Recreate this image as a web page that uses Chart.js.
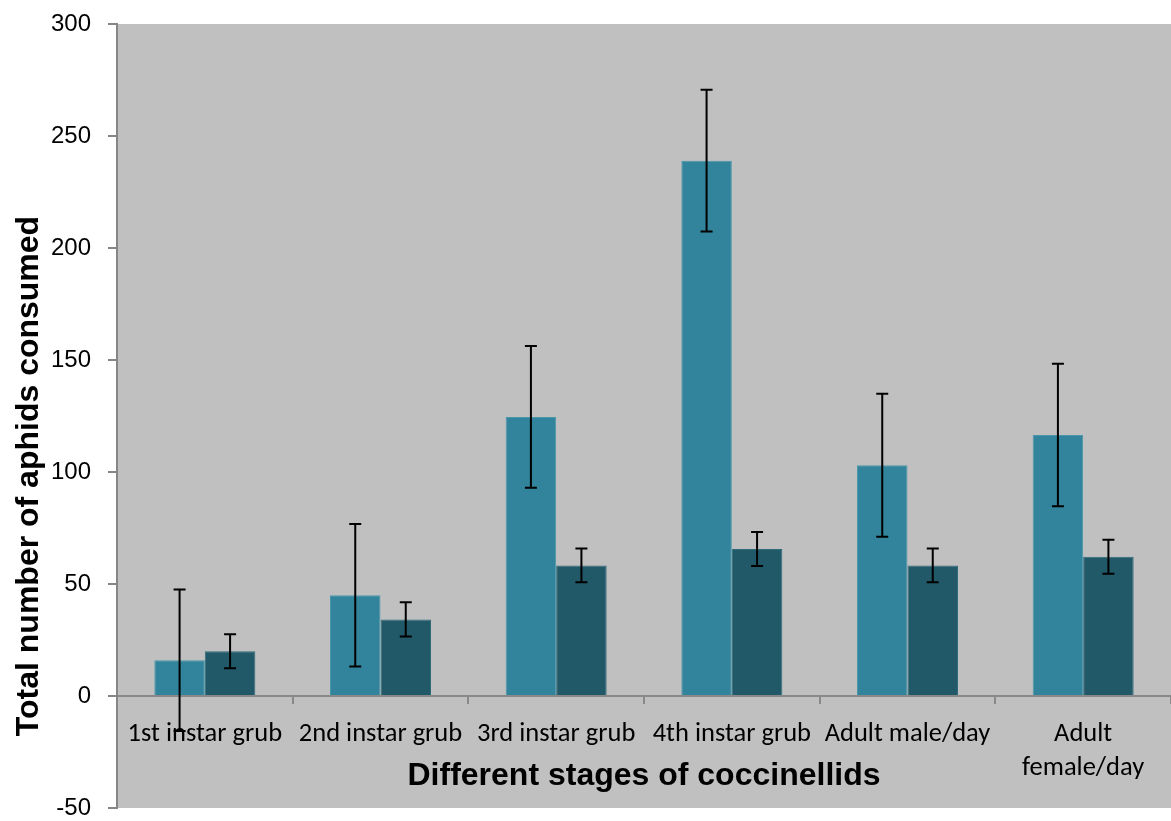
<!DOCTYPE html>
<html>
<head>
<meta charset="utf-8">
<script src="https://cdn.jsdelivr.net/npm/chart.js@4.4.0/dist/chart.umd.min.js"></script>
<style>
  html, body { margin: 0; padding: 0; background: #ffffff; }
  #wrap { width: 1171px; height: 821px; position: relative; }
</style>
</head>
<body>
<div id="wrap"><canvas id="c" width="1171" height="821"></canvas></div>
<script>
// ---- data ----
const categories = ['1st instar grub', '2nd instar grub', '3rd instar grub', '4th instar grub', 'Adult male/day', ['Adult', 'female/day']];
const seriesA = [16, 45, 124.6, 239, 103, 116.5];
const errorsA = [31.6, 31.8, 31.6, 31.6, 31.9, 31.8];
const seriesB = [20, 34.2, 58.3, 65.6, 58.3, 62.2];
const errorsB = [7.6, 7.6, 7.5, 7.6, 7.5, 7.6];
const yMin = -50, yMax = 300, yStep = 50;
const xTitle = 'Different stages of coccinellids';
const yTitle = 'Total number of aphids consumed';

const plotBg = {
  id: 'plotBg',
  beforeDraw(chart) {
    const {ctx, chartArea: a} = chart;
    ctx.save();
    ctx.fillStyle = '#c0c0c0';
    ctx.fillRect(a.left, a.top, a.right - a.left, a.bottom - a.top);
    ctx.restore();
  }
};

const errorBars = {
  id: 'errorBars',
  afterDatasetsDraw(chart) {
    const {ctx} = chart;
    const y = chart.scales.y;
    const errs = [errorsA, errorsB];
    ctx.save();
    ctx.strokeStyle = '#000000';
    ctx.lineWidth = 2;
    chart.data.datasets.forEach((ds, i) => {
      const meta = chart.getDatasetMeta(i);
      meta.data.forEach((bar, j) => {
        const v = ds.data[j], e = errs[i][j];
        const yt = y.getPixelForValue(v + e);
        const yb = y.getPixelForValue(v - e);
        const x = bar.x;
        ctx.beginPath();
        ctx.moveTo(x, yt); ctx.lineTo(x, yb);
        ctx.moveTo(x - 6, yt); ctx.lineTo(x + 6, yt);
        ctx.moveTo(x - 6, yb); ctx.lineTo(x + 6, yb);
        ctx.stroke();
      });
    });
    ctx.restore();
  }
};

const titles = {
  id: 'titles',
  afterDraw(chart) {
    const {ctx, chartArea: a} = chart;
    ctx.save();
    ctx.fillStyle = '#000000';
    ctx.font = 'bold 32px "Liberation Sans", Arial, sans-serif';
    ctx.textAlign = 'center';
    ctx.textBaseline = 'alphabetic';
    ctx.fillText(xTitle, (a.left + a.right) / 2, 785);
    ctx.translate(38, 476);
    ctx.rotate(-Math.PI / 2);
    ctx.fillText(yTitle, 0, 0);
    ctx.restore();
  }
};

new Chart(document.getElementById('c'), {
  type: 'bar',
  data: {
    labels: categories,
    datasets: [
      { data: seriesA, backgroundColor: '#31849b', borderColor: '#4a97ac', borderWidth: 1 },
      { data: seriesB, backgroundColor: '#215968', borderColor: '#2f6b7b', borderWidth: 1 }
    ]
  },
  options: {
    responsive: false,
    animation: false,
    layout: { padding: { top: 24, bottom: 13, left: 0, right: 0 } },
    datasets: { bar: { categoryPercentage: 0.575, barPercentage: 1 } },
    plugins: { legend: { display: false }, tooltip: { enabled: false } },
    scales: {
      x: {
        position: { y: 0 },
        offset: true,
        afterFit(scale) { scale.paddingLeft = 0; scale.paddingRight = 0; },
        grid: { offset: true, drawOnChartArea: false, drawTicks: true, tickLength: 7, color: '#898989', lineWidth: 2 },
        border: { display: true, color: '#898989', width: 2 },
        ticks: {
          color: '#000000',
          padding: 15,
          maxRotation: 0,
          autoSkip: false,
          font: { family: 'Carlito, Lato, "Open Sans", sans-serif', size: 26.5, lineHeight: 1.26 }
        }
      },
      y: {
        min: yMin, max: yMax,
        afterFit(scale) { scale.width = 117; scale.paddingTop = 0; scale.paddingBottom = 0; },
        grid: { drawOnChartArea: false, drawTicks: true, tickLength: 9, color: '#868686', lineWidth: 2 },
        border: { display: true, color: '#868686', width: 2 },
        ticks: {
          stepSize: yStep,
          color: '#000000',
          padding: 17,
          font: { family: '"Liberation Sans", Arial, sans-serif', size: 24 }
        }
      }
    }
  },
  plugins: [plotBg, errorBars, titles]
});
</script>
</body>
</html>
